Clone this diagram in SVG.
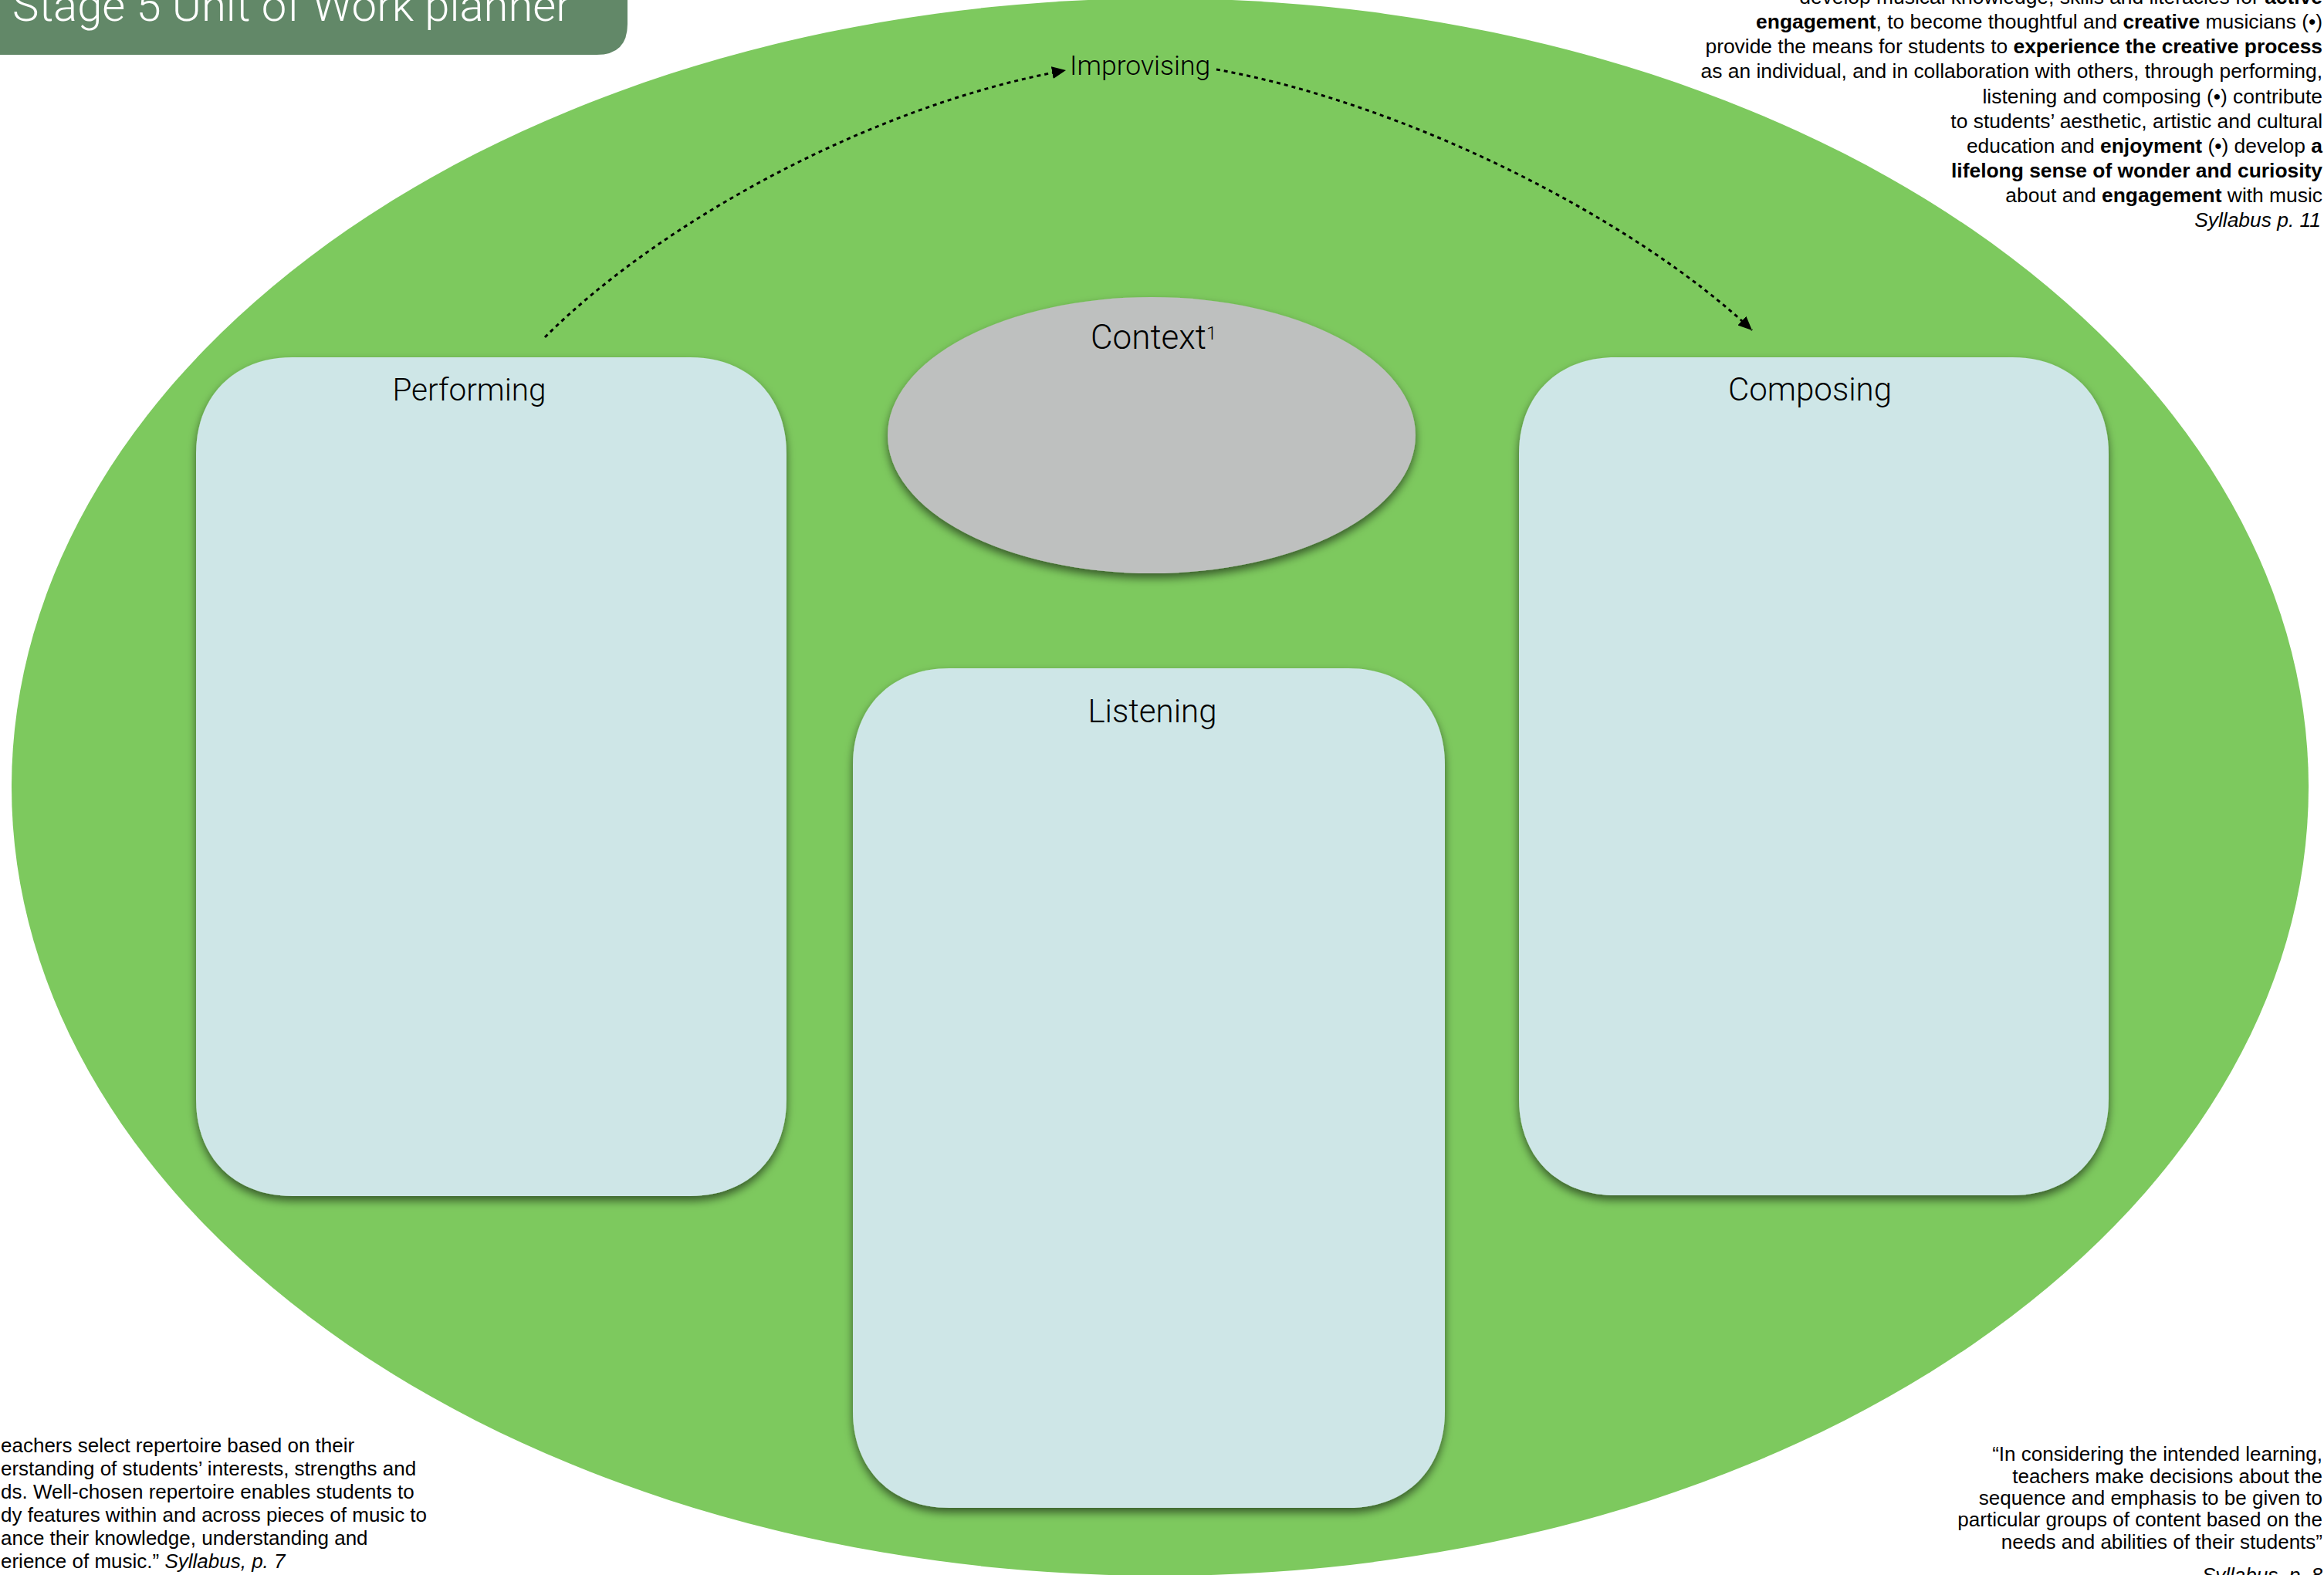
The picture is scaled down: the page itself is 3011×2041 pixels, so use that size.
<svg xmlns="http://www.w3.org/2000/svg" width="3011" height="2041" viewBox="0 0 3011 2041">
  <defs>
    <filter id="lift" x="-10%" y="-10%" width="120%" height="125%">
      <feDropShadow dx="0" dy="6" stdDeviation="6" flood-color="#000" flood-opacity="0.55"/>
    </filter>
    <marker id="head" markerUnits="userSpaceOnUse" markerWidth="20" markerHeight="16" refX="18" refY="8" orient="auto">
      <path d="M0,0 L18,8 L0,16 Z" fill="#000"/>
    </marker>
  </defs>
  <style>
    text { font-family: "Liberation Sans", Arial, sans-serif; fill: #000; }
    .thin { font-family: Roboto, "Liberation Sans", Arial, sans-serif; font-weight: 300; }
    .label { font-size: 42px; text-anchor: middle; }
    .quote { font-size: 26px; }
    .aim { font-size: 26.4px; }
    .end { text-anchor: end; }
    .b { font-weight: bold; }
    .i { font-style: italic; }
    .card { fill: #cee6e7; filter: url(#lift); }
    .flow { fill: none; stroke: #000; stroke-width: 3; stroke-dasharray: 5 5; marker-end: url(#head); }
  </style>

  <rect width="3011" height="2041" fill="#fff"/>

  <!-- backdrop field -->
  <ellipse id="field" cx="1503" cy="1020" rx="1488" ry="1022" fill="#7dc95e"/>

  <!-- title banner -->
  <g id="title">
    <path d="M0,0 H813 V31 Q813,71 773,71 H0 Z" fill="#628868"/>
    <text class="thin" x="16" y="27" font-size="58" style="fill:#fff">Stage 5 Unit of Work planner</text>
  </g>

  <!-- connectors -->
  <g id="connectors">
    <path class="flow" d="M706,437 C856,287 1131,136 1381,91"/>
    <path class="flow" d="M1576,90 C1826,135 2120,286 2270,428"/>
  </g>

  <g id="improvising">
    <text class="thin" x="1386" y="97" font-size="35.5">Improvising</text>
  </g>

  <g id="context">
    <ellipse cx="1492" cy="564" rx="342" ry="179" fill="#bec0bf" filter="url(#lift)"/>
    <text class="thin" x="1413" y="452" font-size="44">Context<tspan font-size="24" dy="-12">1</tspan></text>
  </g>

  <g id="performing">
    <path class="card" d="M379,463 H894 C969,463 1019,513 1019,588 V1425 C1019,1500 969,1550 894,1550 H379 C304,1550 254,1500 254,1425 V588 C254,513 304,463 379,463 Z"/>
    <text class="label thin" x="608" y="519" style="font-size:40.5px">Performing</text>
  </g>

  <g id="composing">
    <path class="card" d="M2093,463 H2607 C2682,463 2732,513 2732,588 V1424 C2732,1499 2682,1549 2607,1549 H2093 C2018,1549 1968,1499 1968,1424 V588 C1968,513 2018,463 2093,463 Z"/>
    <text class="label thin" x="2345" y="519">Composing</text>
  </g>

  <g id="listening">
    <path class="card" d="M1230,866 H1747 C1822,866 1872,916 1872,991 V1829 C1872,1904 1822,1954 1747,1954 H1230 C1155,1954 1105,1904 1105,1829 V991 C1105,916 1155,866 1230,866 Z"/>
    <text class="label thin" x="1493" y="936">Listening</text>
  </g>

  <!-- aims quotation, top right -->
  <g id="aims">
    <text class="aim end" x="3009" y="5">develop musical knowledge, skills and literacies for <tspan class="b">active</tspan></text>
    <text class="aim end" x="3009" y="37"><tspan class="b">engagement</tspan>, to become thoughtful and <tspan class="b">creative</tspan> musicians (•)</text>
    <text class="aim end" x="3009" y="69">provide the means for students to <tspan class="b">experience the creative process</tspan></text>
    <text class="aim end" x="3009" y="101">as an individual, and in collaboration with others, through performing,</text>
    <text class="aim end" x="3009" y="134">listening and composing (•) contribute</text>
    <text class="aim end" x="3009" y="166">to students’ aesthetic, artistic and cultural</text>
    <text class="aim end" x="3009" y="198">education and <tspan class="b">enjoyment</tspan> (•) develop <tspan class="b">a</tspan></text>
    <text class="aim end b" x="3009" y="230">lifelong sense of wonder and curiosity</text>
    <text class="aim end" x="3009" y="262">about and <tspan class="b">engagement</tspan> with music</text>
    <text class="aim end i" x="3007" y="294">Syllabus p. 11</text>
  </g>

  <!-- repertoire quotation, bottom left -->
  <g id="repertoire">
    <text class="quote" x="1" y="1882">eachers select repertoire based on their</text>
    <text class="quote" x="1" y="1912">erstanding of students’ interests, strengths and</text>
    <text class="quote" x="1" y="1942">ds. Well-chosen repertoire enables students to</text>
    <text class="quote" x="1" y="1972">dy features within and across pieces of music to</text>
    <text class="quote" x="1" y="2002">ance their knowledge, understanding and</text>
    <text class="quote" x="1" y="2032">erience of music.” <tspan class="i">Syllabus, p. 7</tspan></text>
  </g>

  <!-- sequencing quotation, bottom right -->
  <g id="sequencing">
    <text class="quote end" x="3009" y="1893">“In considering the intended learning,</text>
    <text class="quote end" x="3009" y="1922">teachers make decisions about the</text>
    <text class="quote end" x="3009" y="1950">sequence and emphasis to be given to</text>
    <text class="quote end" x="3009" y="1978">particular groups of content based on the</text>
    <text class="quote end" x="3009" y="2007">needs and abilities of their students”</text>
    <text class="quote end i" x="3009" y="2050">Syllabus, p. 8</text>
  </g>
</svg>
